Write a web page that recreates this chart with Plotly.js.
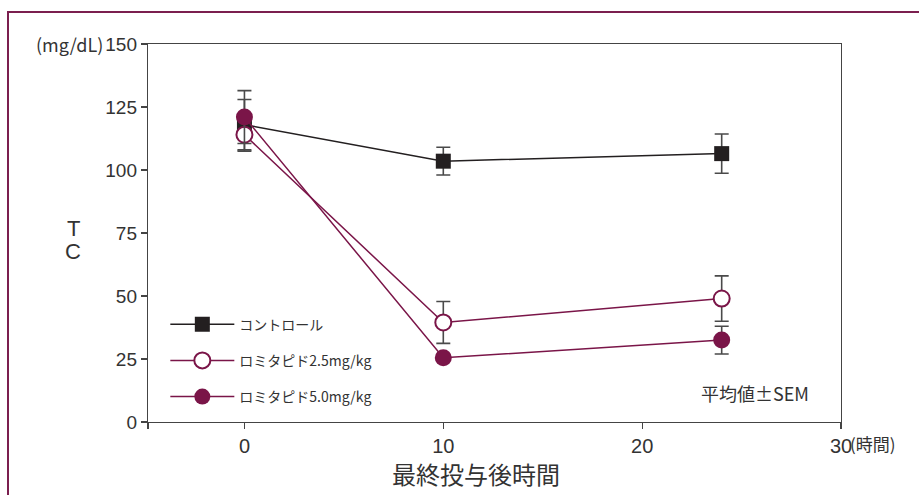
<!DOCTYPE html>
<html><head><meta charset="utf-8">
<script src="https://cdn.plot.ly/plotly-3.0.1.min.js"></script>
<style>
html,body{margin:0;padding:0;background:#fff;overflow:hidden;}
#frame{position:absolute;left:7px;top:11px;width:1000px;height:600px;border:2px solid #7b1f4f;box-sizing:border-box;}
#chart{position:absolute;left:0;top:0;width:919px;height:495px;}
</style></head>
<body>
<div id="frame"></div>
<div id="chart"></div>
<script>
const hours = [0, 10, 24];
const controlTC = [118, 103.5, 106.5];
const controlSEM = [10, 5.5, 7.8];
const lomi25TC = [114, 39.5, 49];
const lomi25SEM = [6.5, 8.3, 9];
const lomi50TC = [121, 25.5, 32.5];
const lomi50SEM = [10.5, 0, 5.5];
const seriesNames = ['コントロール', 'ロミタピド2.5mg/kg', 'ロミタピド5.0mg/kg'];
const yTickVals = [0, 25, 50, 75, 100, 125, 150];
const yTickText = ['0', '25', '50', '75', '100', '125', '150'];
const xTickVals = [-4.85, 0, 10, 20, 30];
const xTickText = ['', '0', '10', '20', '30'];

const MAG = '#7a1548';
const BLK = '#231f20';
const ERR = '#4a4a4a';
const jp = '"Noto Sans CJK JP", "Noto Sans", sans-serif';
const num = '"Liberation Sans", Arial, sans-serif';

function errBar(arr){return {type:'data', array:arr, visible:true, color:ERR, thickness:1.6, width:7};}

const traces = [
  {x:hours, y:controlTC, name:seriesNames[0], legendgroup:'a', mode:'lines+markers', type:'scatter',
   line:{color:BLK, width:1.5}, marker:{symbol:'square', size:15, color:BLK, line:{color:BLK,width:0}},
   error_y:errBar(controlSEM)},
  {x:hours, y:lomi25TC, name:seriesNames[1], legendgroup:'b', mode:'lines+markers', type:'scatter',
   line:{color:MAG, width:1.5}, marker:{symbol:'circle', size:16, color:'#ffffff', line:{color:MAG,width:2}},
   error_y:errBar(lomi25SEM)},
  {x:hours, y:lomi50TC, name:seriesNames[2], legendgroup:'c', mode:'lines+markers', type:'scatter',
   line:{color:MAG, width:1.5}, marker:{symbol:'circle', size:17, color:MAG, line:{color:MAG,width:0}},
   error_y:errBar(lomi50SEM)}
];

const layout = {
  width:919, height:495,
  margin:{l:148, r:78, t:44, b:73},
  paper_bgcolor:'rgba(0,0,0,0)', plot_bgcolor:'#fff',
  showlegend:true,
  legend:{x:0.025, xanchor:'left', y:0.30, yanchor:'top', traceorder:'grouped', tracegroupgap:15,
          font:{family:jp, size:14, color:'#333'}, bgcolor:'rgba(0,0,0,0)', itemwidth:64},
  xaxis:{range:[-4.85,30], tickvals:xTickVals, ticktext:xTickText, ticks:'outside', ticklen:6,
         tickcolor:'#444', tickwidth:1.2, showline:true, linecolor:'#444', linewidth:1.2, mirror:true,
         showgrid:false, zeroline:false, tickfont:{family:num, size:20, color:'#333'}},
  yaxis:{range:[0,150], tickvals:yTickVals, ticktext:yTickText, ticks:'outside', ticklen:6,
         tickcolor:'#444', tickwidth:1.2, showline:true, linecolor:'#444', linewidth:1.2, mirror:true,
         showgrid:false, zeroline:false, tickfont:{family:num, size:19, color:'#333'}},
  annotations:[
    {text:'(mg/dL)', xref:'paper', yref:'y', x:0, y:150, xanchor:'right', yanchor:'middle', xshift:-43,
     showarrow:false, font:{family:jp, size:18, color:'#333'}},
    {text:'(時間)', xref:'x', yref:'paper', x:30, y:0, xanchor:'left', yanchor:'top', xshift:7, yshift:-7,
     showarrow:false, font:{family:jp, size:17, color:'#333'}},
    {text:'T', xref:'paper', yref:'paper', x:0, y:0.512, xanchor:'center', yanchor:'middle', xshift:-75,
     showarrow:false, font:{family:num, size:22, color:'#333'}},
    {text:'C', xref:'paper', yref:'paper', x:0, y:0.45, xanchor:'center', yanchor:'middle', xshift:-75,
     showarrow:false, font:{family:num, size:22, color:'#333'}},
    {text:'最終投与後時間', xref:'paper', yref:'paper', x:0.474, y:0, xanchor:'center', yanchor:'top', yshift:-32,
     showarrow:false, font:{family:jp, size:24, color:'#333'}},
    {text:'平均値±SEM', xref:'x', yref:'y', x:25.65, y:11.5, xanchor:'center', yanchor:'middle',
     showarrow:false, font:{family:jp, size:18, color:'#333'}}
  ]
};

Plotly.newPlot('chart', traces, layout, {displayModeBar:false, staticPlot:true});
</script>
</body></html>
